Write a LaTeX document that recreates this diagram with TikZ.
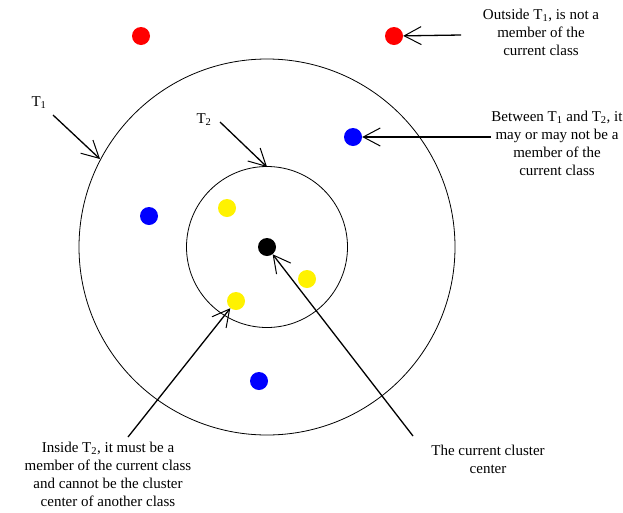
\documentclass[tikz,border=0pt]{standalone}
\usepackage{fontspec}
\setmainfont{Liberation Serif}
\usetikzlibrary{arrows.meta}
\begin{document}
\begin{tikzpicture}[x=1pt,y=-1pt,
  ring/.style={draw=black,line width=0.8pt,circle,inner sep=0pt},
  dot/.style={circle,inner sep=0pt,minimum size=18pt},
  lbl/.style={font=\fontsize{15}{18}\selectfont,align=center,inner sep=0pt},
  pointer/.style={line width=1.3pt,-{Straight Barb[length=17pt,width=18pt,line width=1pt]}}]
\useasboundingbox (0,0) rectangle (623,512);
\node[ring,minimum size=376pt] (T1c) at (267,247) {};
\node[ring,minimum size=161pt] (T2c) at (267,247) {};
\node[dot,fill=red] (r1) at (141,36) {};
\node[dot,fill=red] (r2) at (394,36) {};
\node[dot,fill=blue] (b1) at (353,137) {};
\node[dot,fill=blue] (b2) at (149,216) {};
\node[dot,fill=blue] (b3) at (259,381) {};
\node[dot,fill=yellow] (y1) at (227,208) {};
\node[dot,fill=yellow] (y2) at (307,279) {};
\node[dot,fill=yellow] (y3) at (236,301) {};
\node[dot,fill=black] (c) at (267,247) {};
\node[lbl] (tOut) at (541,32) {Outside T\textsubscript{1}, is not a\\member of the\\current class};
\node[lbl] (tBet) at (557,143) {Between T\textsubscript{1} and T\textsubscript{2}, it\\may or may not be a\\member of the\\current class};
\node[lbl] (tIn) at (108,474) {Inside T\textsubscript{2}, it must be a\\member of the current class\\and cannot be the cluster\\center of another class};
\node[lbl] (tCen) at (488,459) {The current cluster\\center};
\node[lbl] (lT1) at (39,103) {T\textsubscript{1}};
\node[lbl] (lT2) at (204,120) {T\textsubscript{2}};
\coordinate (oS) at (461,35);
\coordinate (bS) at (491,137);
\coordinate (t1S) at (53,115);
\coordinate (t1E) at (100,159);
\coordinate (t2S) at (220,122);
\coordinate (t2E) at (267,167);
\coordinate (iS) at (128,437);
\coordinate (cS) at (413,436);
\draw[pointer] (oS) -- (r2);
\draw[pointer] (bS) -- (b1);
\draw[pointer] (t1S) -- (t1E);
\draw[pointer] (t2S) -- (t2E);
\draw[pointer] (iS) -- (y3);
\draw[pointer] (cS) -- (c);
\end{tikzpicture}
\end{document}
